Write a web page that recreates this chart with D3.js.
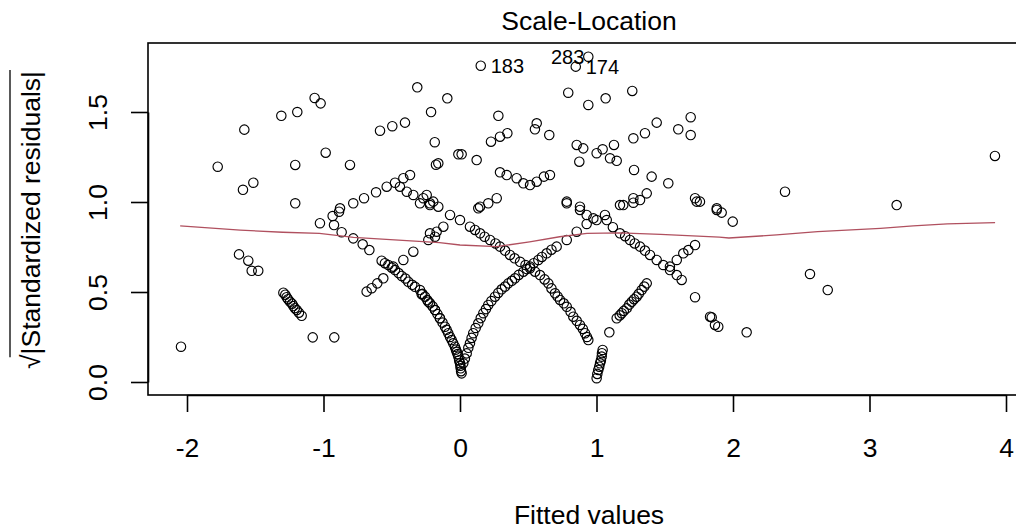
<!DOCTYPE html>
<html><head><meta charset="utf-8">
<script src="https://cdn.jsdelivr.net/npm/d3@7"></script>
<style>body{margin:0;background:#fff}svg{display:block}text{font-family:"Liberation Sans",Arial,sans-serif;fill:#000}</style>
</head><body><svg id="c" width="1016" height="531"></svg>
<script>
// Fitted values (x) and sqrt(|standardized residuals|) (y)
const fittedValues = [
-1.775,-1.580,-1.309,-1.192,-1.065,-1.021,-1.590,-1.514,-1.207,-1.207,-0.984,-0.806,-0.313,-0.212,-0.586,-0.496,-0.403,-0.185,-0.176,
-0.879,-0.782,-0.703,-0.615,-0.537,-0.476,-0.415,-0.366,-0.440,-0.390,-0.342,-0.269,-0.220,
-2.044,-1.619,-1.551,-1.526,-1.478,-1.294,-1.270,-1.245,-1.221,-1.196,-1.160,-1.079,-0.921,-1.026,-0.933,-0.886,-0.923,-0.867,-0.782,-0.713,-0.664,-0.342,-0.415,-0.489,
-0.574,-0.525,-0.476,-0.427,-0.379,-0.330,-0.281,-0.232,-0.183,-0.147,-0.684,-0.647,-0.606,-0.562,-0.232,-0.183,
0.152,0.940,0.848,-0.093,0.281,0.227,0.293,0.347,0.562,0.549,0.654,-0.012,0.012,0.122,-0.159,
0.293,0.342,0.415,0.464,0.513,0.562,0.615,0.659,0.793,0.940,1.067,1.262,1.270,1.355,1.441,1.690,1.599,1.690,
0.855,0.903,1.001,1.045,1.128,1.148,1.099,0.874,1.275,1.404,1.526,1.722,1.881,1.172,1.270,1.368,-0.244,-0.196,0.147,0.269,0.782,0.879,
-0.293,-0.256,-0.220,-0.183,-0.147,-0.110,-0.086,-0.061,-0.037,-0.024,-0.012,0.000,0.005,0.012,
0.024,0.049,0.073,0.097,0.134,0.171,0.207,0.256,0.305,0.354,0.403,0.464,0.513,0.574,0.635,0.708,0.782,0.855,0.928,1.001,1.062,
-0.073,0.000,0.073,0.147,0.220,0.293,0.366,0.440,0.513,0.586,0.647,0.696,0.733,0.782,0.830,0.879,0.916,0.940,
1.001,1.013,1.026,1.038,1.045,1.094,1.148,1.185,1.221,1.258,1.294,1.331,1.368,1.722,1.832,1.868,
1.075,1.172,1.245,1.319,1.392,1.441,1.489,1.538,1.588,1.624,1.538,1.588,1.636,1.673,1.722,
0.782,0.879,0.928,0.977,1.196,1.270,1.319,0.134,0.207,1.734,1.881,-0.293,-0.220,-0.159,-0.220,-0.171,-0.122,
2.381,3.199,3.919,1.917,1.998,2.564,2.694,1.844,1.892,2.100,1.758,
0.036,0.061,0.085,0.115,0.152,0.190,0.230,0.280,0.330,0.380,0.430,0.490,0.540,0.600,0.670,
0.110,0.180,0.260,0.330,0.400,0.480,0.550,0.620,0.670,0.715,0.760,0.810,0.855,0.900,0.930,
-0.275,-0.240,-0.200,-0.165,-0.128,-0.098,-0.073,-0.050,-0.030,-0.018,-0.006,0.003,0.008,-0.350,-0.400,-0.450,-0.500,-0.550,
1.006,1.020,1.032,1.040,1.170,1.200,1.240,1.275,1.310,1.350,
1.120,1.210,1.280,1.355,
-1.280,-1.260,-1.230,-1.210,-1.180
];
const sqrtStdResid = [
1.196,1.402,1.479,1.500,1.578,1.548,1.068,1.107,1.206,0.993,1.274,1.206,1.637,1.500,1.396,1.421,1.441,1.332,1.207,
0.965,0.993,1.021,1.054,1.085,1.107,1.132,1.150,1.085,1.057,1.039,1.021,0.993,
0.196,0.709,0.674,0.618,0.618,0.496,0.471,0.446,0.422,0.400,0.368,0.248,0.248,0.882,0.922,0.946,0.872,0.832,0.798,0.765,0.733,0.724,0.678,0.641,
0.674,0.650,0.622,0.589,0.557,0.529,0.487,0.446,0.400,0.354,0.502,0.521,0.548,0.576,0.789,0.807,
1.757,1.807,1.752,1.576,1.479,1.335,1.363,1.382,1.437,1.404,1.372,1.265,1.265,1.233,1.215,
1.165,1.150,1.132,1.104,1.094,1.113,1.141,1.150,1.607,1.539,1.576,1.617,1.354,1.382,1.441,1.471,1.404,1.372,
1.317,1.298,1.271,1.293,1.317,1.229,1.243,1.224,1.178,1.141,1.104,1.021,0.965,0.983,1.021,1.048,1.039,1.002,0.974,1.021,1.002,0.974,
0.511,0.474,0.437,0.400,0.354,0.307,0.271,0.233,0.196,0.168,0.141,0.104,0.076,0.048,
0.104,0.159,0.215,0.271,0.326,0.382,0.428,0.474,0.515,0.548,0.576,0.613,0.641,0.678,0.715,0.752,0.789,0.835,0.878,0.900,0.928,
0.928,0.900,0.863,0.826,0.789,0.752,0.706,0.668,0.632,0.594,0.548,0.493,0.456,0.418,0.363,0.317,0.271,0.233,
0.021,0.067,0.104,0.141,0.178,0.276,0.354,0.382,0.409,0.446,0.474,0.511,0.548,0.471,0.363,0.317,
0.900,0.826,0.789,0.752,0.706,0.678,0.650,0.622,0.594,0.567,0.641,0.678,0.715,0.733,0.761,
0.993,0.956,0.928,0.909,0.983,0.996,1.011,0.965,0.993,1.002,0.956,0.993,0.983,0.974,0.826,0.835,0.863,
1.057,0.983,1.256,0.941,0.891,0.600,0.511,0.359,0.307,0.276,1.002,
0.130,0.190,0.245,0.300,0.355,0.405,0.450,0.495,0.530,0.562,0.595,0.627,0.660,0.695,0.735,
0.845,0.807,0.770,0.730,0.687,0.650,0.613,0.570,0.520,0.475,0.437,0.390,0.340,0.295,0.250,
0.490,0.455,0.420,0.377,0.330,0.290,0.250,0.215,0.180,0.155,0.120,0.090,0.060,0.540,0.575,0.605,0.635,0.660,
0.045,0.085,0.120,0.160,0.370,0.395,0.430,0.460,0.490,0.530,
0.860,0.810,0.770,0.730,
0.485,0.460,0.435,0.410,0.385
];
// smoother (red line)
const smoothX = [-2.05,-1.61,-1.30,-1.03,-0.78,-0.39,-0.15,0,0.27,0.51,0.73,0.93,1.17,1.47,1.90,1.97,2.32,2.62,3.08,3.32,3.57,3.92];
const smoothY = [0.867,0.844,0.832,0.826,0.804,0.785,0.774,0.761,0.752,0.779,0.807,0.826,0.829,0.820,0.805,0.800,0.817,0.835,0.854,0.867,0.878,0.885];
// labelled observations
const idLabels = ["183","283","174"];
const idX = [0.152,0.940,0.848];
const idY = [1.757,1.807,1.752];
const idSide = ["right","left","right"];
const xTicks = [-2,-1,0,1,2,3,4];
const xTickLabels = ["-2","-1","0","1","2","3","4"];
const yTicks = [0,0.5,1,1.5];
const yTickLabels = ["0.0","0.5","1.0","1.5"];
const titleText = "Scale-Location";
const xLabel = "Fitted values";

const svg = d3.select("#c");
const x = d3.scaleLinear().domain([-2,4]).range([187,1006]);
const y = d3.scaleLinear().domain([0,1.5]).range([382,112]);
const box = {l:148, t:43, r:1030, b:395};
const FS = 26.5;

svg.append("rect").attr("width",1016).attr("height",531).attr("fill","#fff");

// points
svg.append("g").selectAll("circle").data(fittedValues.map((v,i)=>[v,sqrtStdResid[i]]))
  .join("circle").attr("cx",d=>x(d[0])).attr("cy",d=>y(d[1])).attr("r",4.7)
  .attr("fill","none").attr("stroke","#000").attr("stroke-width",1.15);

// smoother
svg.append("path").datum(smoothX.map((v,i)=>[v,smoothY[i]]))
  .attr("d",d3.line().x(d=>x(d[0])).y(d=>y(d[1])))
  .attr("fill","none").attr("stroke","#b0505f").attr("stroke-width",1.3);

// id labels
svg.append("g").selectAll("text").data(idLabels.map((t,i)=>({t,x:idX[i],y:idY[i],s:idSide[i]})))
  .join("text").attr("x",d=>x(d.x)+(d.s==="right"?10:-4)).attr("y",d=>y(d.y)+7.5)
  .attr("text-anchor",d=>d.s==="right"?"start":"end").attr("font-size",20).text(d=>d.t);

// box
svg.append("rect").attr("x",box.l).attr("y",box.t).attr("width",box.r-box.l).attr("height",box.b-box.t)
  .attr("fill","none").attr("stroke","#000").attr("stroke-width",1.6);

// x axis
const xa = svg.append("g").attr("transform",`translate(0,${box.b})`)
  .call(d3.axisBottom(x).tickValues(xTicks).tickSize(17).tickSizeOuter(0).tickPadding(26).tickFormat((d,i)=>xTickLabels[i]));
xa.select(".domain").attr("stroke-width",1.6);
xa.selectAll(".tick line").attr("stroke-width",1.6);
xa.selectAll(".tick text").attr("font-size",FS).attr("font-family","Liberation Sans, Arial, sans-serif").attr("fill","#000");

// y axis
const ya = svg.append("g").attr("transform",`translate(${box.l},0)`)
  .call(d3.axisLeft(y).tickValues(yTicks).tickSize(17).tickSizeOuter(0).tickFormat((d,i)=>yTickLabels[i]));
ya.select(".domain").attr("stroke-width",1.6);
ya.selectAll(".tick line").attr("stroke-width",1.6);
ya.selectAll(".tick text").attr("font-size",FS).attr("font-family","Liberation Sans, Arial, sans-serif").attr("fill","#000")
  .attr("x",0).attr("dy",0).attr("text-anchor","middle")
  .attr("transform","translate(-41,0) rotate(-90)");

// title
svg.append("text").attr("x",(box.l+box.r)/2).attr("y",30).attr("text-anchor","middle").attr("font-size",FS).text(titleText);
// x label
svg.append("text").attr("x",(box.l+box.r)/2).attr("y",524).attr("text-anchor","middle").attr("font-size",FS).text(xLabel);

// y label with radical
const yl = svg.append("g").attr("transform","translate(40,220) rotate(-90)");
const ylt = yl.append("text").attr("text-anchor","middle").attr("font-size",FS).text("\u221A|Standardized residuals|");
const total = ylt.node().getComputedTextLength();
const rw = ylt.node().getSubStringLength(0,1);
yl.append("line").attr("x1",-total/2+rw*0.8).attr("x2",total/2+1).attr("y1",-30).attr("y2",-30)
  .attr("stroke","#000").attr("stroke-width",1.3);
</script></body></html>
